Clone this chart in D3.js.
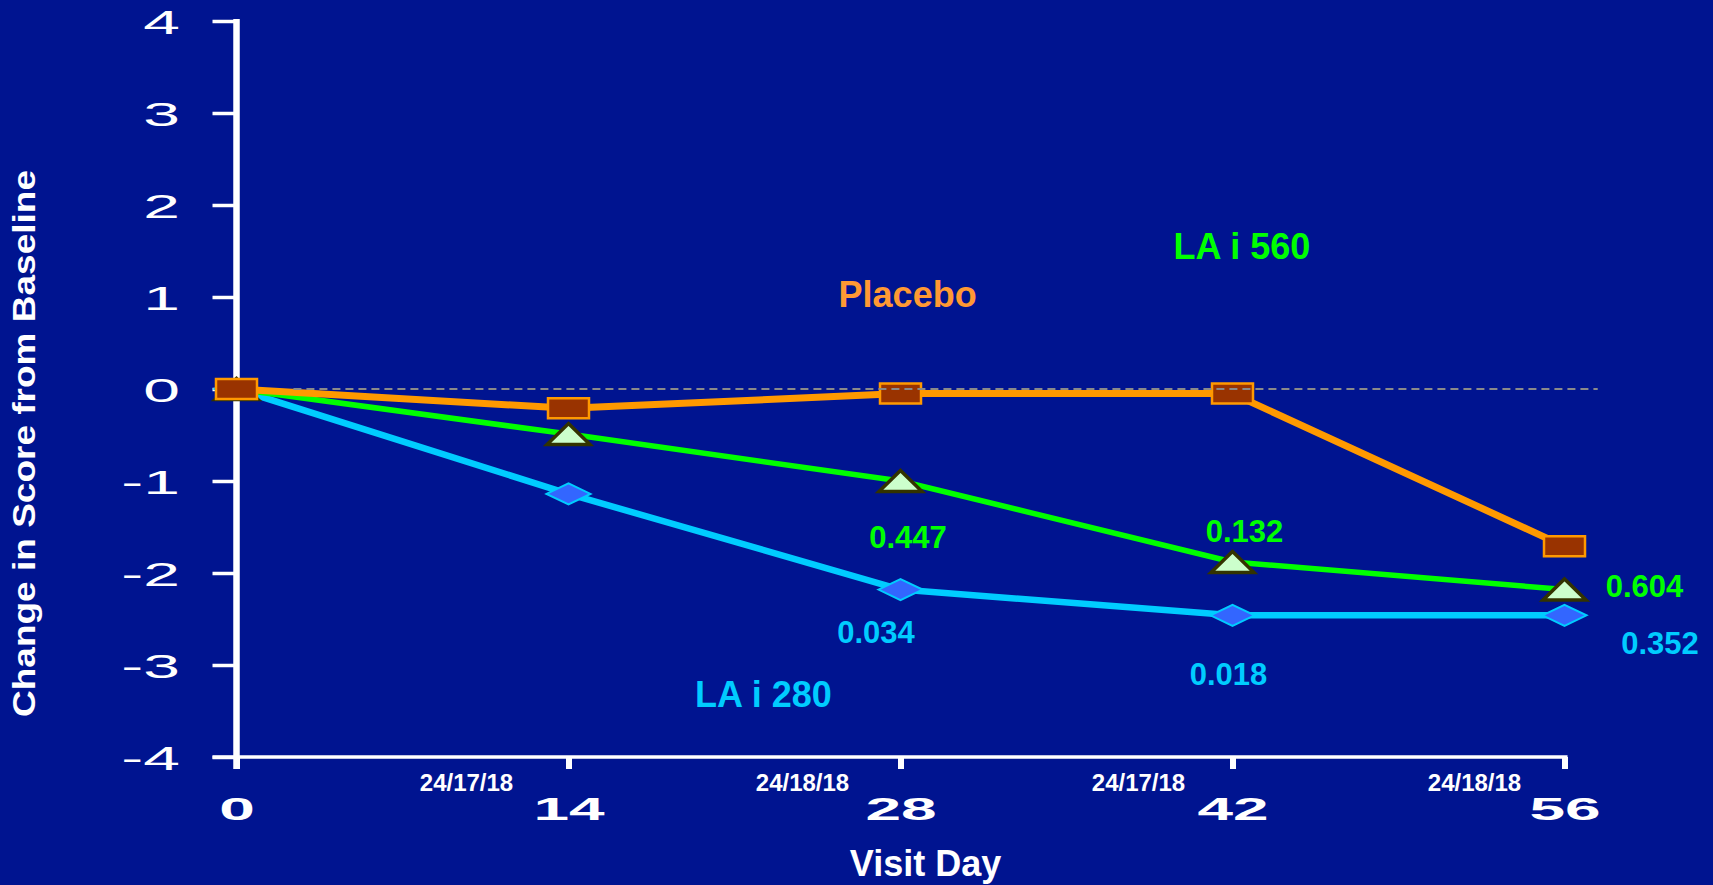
<!DOCTYPE html>
<html>
<head>
<meta charset="utf-8">
<script src="https://cdn.jsdelivr.net/npm/d3@7"></script>
<style>
  html, body { margin: 0; padding: 0; background: #001490; }
  svg { display: block; }
  text { font-family: "Liberation Sans", Arial, Helvetica, sans-serif; }
</style>
</head>
<body>
<svg id="chart" width="1713" height="885"></svg>
<script>
// Visit days and mean change in score from baseline per arm
const days = [0, 14, 28, 42, 56];
const placebo = [0, -0.21, -0.05, -0.05, -1.71];
const lai560 = [0, -0.49, -1.00, -1.88, -2.18];
const lai280 = [0, -1.14, -2.18, -2.46, -2.46];

// Axis ticks
const yTicks = [4, 3, 2, 1, 0, -1, -2, -3, -4];
const yTickLabels = ["4", "3", "2", "1", "0", "-1", "-2", "-3", "-4"];
const xTickLabels = ["0", "14", "28", "42", "56"];

// Patients per arm at each visit (day 14 .. 56)
const sampleSizes = ["24/17/18", "24/18/18", "24/17/18", "24/18/18"];

// p-values vs placebo at days 28, 42, 56
const pLai560 = ["0.447", "0.132", "0.604"];
const pLai280 = ["0.034", "0.018", "0.352"];

const svg = d3.select("#chart");

const x = d3.scaleLinear().domain([0, 56]).range([236.5, 1564.5]);
const y = d3.scaleLinear().domain([-4, 4]).range([757, 21]);

const WHITE = "#ffffff";

// ---- Y axis ----
const yAxis = d3.axisLeft(y)
  .tickValues(yTicks)
  .tickSize(24)
  .tickSizeOuter(0)
  .tickFormat((d, i) => yTickLabels[i]);

const gy = svg.append("g").attr("transform", `translate(${x(0)},0)`).call(yAxis);
gy.select(".domain").remove();
gy.selectAll(".tick line").attr("stroke", WHITE).attr("stroke-width", 3.5);
gy.selectAll(".tick text")
  .attr("fill", WHITE)
  .attr("font-size", 33)
  .attr("text-anchor", "end")
  .attr("x", -56.5 / 2)
  .attr("y", 12)
  .attr("dy", 0)
  .attr("transform", "scale(2,1)");

// ---- X axis ----
const xAxis = d3.axisBottom(x)
  .tickValues(days)
  .tickSize(12)
  .tickSizeOuter(0)
  .tickFormat((d, i) => xTickLabels[i]);

const gx = svg.append("g").attr("transform", `translate(0,${y(-4)})`).call(xAxis);
gx.select(".domain").remove();
gx.selectAll(".tick line").attr("stroke", WHITE).attr("stroke-width", 6);
gx.selectAll(".tick text")
  .attr("fill", WHITE)
  .attr("font-size", 32)
  .attr("font-weight", "bold")
  .attr("x", 0)
  .attr("y", 63)
  .attr("dy", 0)
  .attr("transform", "scale(2,1)");

// axis lines
svg.append("line")
  .attr("x1", x(0) - 24).attr("x2", x(56) + 3)
  .attr("y1", y(-4)).attr("y2", y(-4))
  .attr("stroke", WHITE).attr("stroke-width", 3.5);
svg.append("line")
  .attr("x1", x(0)).attr("x2", x(0))
  .attr("y1", y(4) - 2).attr("y2", y(-4) + 12)
  .attr("stroke", WHITE).attr("stroke-width", 6.5);

// sample size labels between ticks
svg.append("g").selectAll("text")
  .data(sampleSizes)
  .join("text")
  .attr("x", (d, i) => x(days[i + 1]) - 102 + i * 4)
  .attr("y", 791)
  .attr("text-anchor", "middle")
  .attr("font-size", 24)
  .attr("font-weight", "bold")
  .attr("fill", WHITE)
  .text(d => d);

// axis titles
svg.append("text")
  .attr("transform", `translate(35,${(y(4) + y(-4)) / 2 + 54.5}) rotate(-90)`)
  .attr("text-anchor", "middle")
  .attr("font-size", 32)
  .attr("font-weight", "bold")
  .attr("fill", WHITE)
  .attr("textLength", 547)
  .attr("lengthAdjust", "spacingAndGlyphs")
  .text("Change in Score from Baseline");

svg.append("text")
  .attr("x", 925.5)
  .attr("y", 876)
  .attr("text-anchor", "middle")
  .attr("font-size", 36)
  .attr("font-weight", "bold")
  .attr("fill", WHITE)
  .text("Visit Day");

// ---- Series ----
const line = d3.line().x(d => x(d[0])).y(d => y(d[1]));

const series = [
  { name: "LA i 280", values: lai280, color: "#00ccff", width: 6.5, marker: "diamond",
    fill: "#3366ff", stroke: "#00ccff", markerStroke: 2 },
  { name: "LA i 560", values: lai560, color: "#00ff00", width: 5.5, marker: "triangle",
    fill: "#ccffcc", stroke: "#333300", markerStroke: 3.5 },
  { name: "Placebo", values: placebo, color: "#ff9900", width: 7, marker: "square",
    fill: "#993300", stroke: "#ff9900", markerStroke: 2.5 }
];

const markerPath = {
  diamond: "M-22,0L0,-10.5L22,0L0,10.5Z",
  triangle: "M0,-10.5L21.5,10.5L-21.5,10.5Z",
  square: "M-20.5,-10L20.5,-10L20.5,10L-20.5,10Z"
};

series.forEach(s => {
  const pts = days.map((d, i) => [d, s.values[i]]);
  svg.append("path")
    .datum(pts)
    .attr("d", line)
    .attr("fill", "none")
    .attr("stroke", s.color)
    .attr("stroke-width", s.width)
    .attr("stroke-linejoin", "round");
  svg.append("g").selectAll("path")
    .data(pts)
    .join("path")
    .attr("transform", d => `translate(${x(d[0])},${y(d[1])})`)
    .attr("d", markerPath[s.marker])
    .attr("fill", s.fill)
    .attr("stroke", s.stroke)
    .attr("stroke-width", s.markerStroke)
    .attr("stroke-linejoin", "miter");
});

// zero reference line
svg.append("line")
  .attr("x1", x(2.4)).attr("x2", x(57.4))
  .attr("y1", y(0)).attr("y2", y(0))
  .attr("stroke", "#8a8a8a")
  .attr("stroke-width", 2.2)
  .attr("stroke-dasharray", "8,5");

// ---- Series names ----
const names = [
  { text: "Placebo", day: 28.3, val: 0.89, color: "#ff9933" },
  { text: "LA i 560", day: 42.4, val: 1.41, color: "#00ff00" },
  { text: "LA i 280", day: 22.22, val: -3.46, color: "#00ccff" }
];
svg.append("g").selectAll("text")
  .data(names)
  .join("text")
  .attr("x", d => x(d.day))
  .attr("y", d => y(d.val))
  .attr("text-anchor", "middle")
  .attr("font-size", 36)
  .attr("font-weight", "bold")
  .attr("fill", d => d.color)
  .text(d => d.text);

// ---- p-values next to the points at days 28, 42, 56 ----
const pOffsets560 = [[7.5, 67], [12, -20], [80, 7.5]];
const pOffsets280 = [[-24.5, 53], [-4, 69.5], [95.5, 38.5]];

function pLabels(labels, values, offsets, color) {
  svg.append("g").selectAll("text")
    .data(labels)
    .join("text")
    .attr("x", (d, i) => x(days[i + 2]) + offsets[i][0])
    .attr("y", (d, i) => y(values[i + 2]) + offsets[i][1])
    .attr("text-anchor", "middle")
    .attr("font-size", 31)
    .attr("font-weight", "bold")
    .attr("fill", color)
    .text(d => d);
}
pLabels(pLai560, lai560, pOffsets560, "#00ff00");
pLabels(pLai280, lai280, pOffsets280, "#00ccff");
</script>
</body>
</html>
